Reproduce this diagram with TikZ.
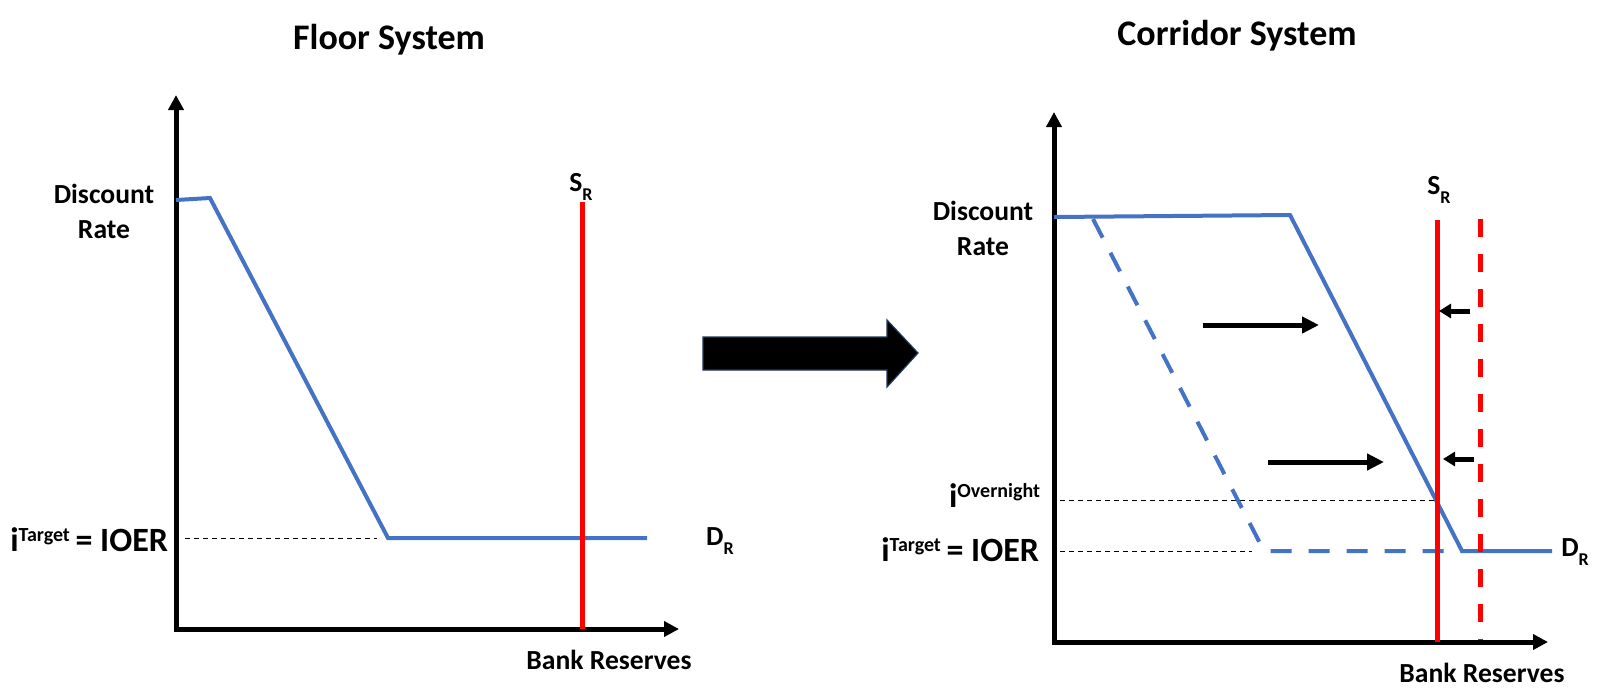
\documentclass[tikz,border=0pt]{standalone}
\usepackage{fontspec}
\setmainfont{Carlito}
\usetikzlibrary{arrows.meta}
\definecolor{curveblue}{RGB}{68,114,196}
\definecolor{supplyred}{RGB}{255,0,0}
\definecolor{arrowedge}{RGB}{31,56,100}
\newcommand{\subR}{\raisebox{-0.3em}{\fontsize{9}{9}\selectfont R}}
\newcommand{\supTxt}[1]{\raisebox{4.6pt}{\fontsize{10}{10}\selectfont #1}}
\begin{document}
\begin{tikzpicture}[x=0.5pt,y=-0.5pt,
  every node/.style={inner sep=0pt, outer sep=0pt},
  axisline/.style={line width=2.5pt, -{Triangle[length=7.5pt,width=7.5pt]}},
  demand/.style={curveblue, line width=2pt, line join=miter},
  demanddash/.style={demand, dash pattern=on 10.5pt off 8.5pt},
  supply/.style={supplyred, line width=2.5pt},
  supplydash/.style={supply, dash pattern=on 9pt off 8.5pt},
  guide/.style={black, line width=0.5pt, dash pattern=on 2.5pt off 2pt},
  shiftlong/.style={line width=2.5pt, -{Triangle[length=8.5pt,width=8pt]}},
  shiftshort/.style={line width=2.5pt, -{Triangle[length=6pt,width=7pt]}},
  titletext/.style={font=\fontsize{18}{22}\selectfont\bfseries},
  lbl/.style={font=\fontsize{13.8}{17.5}\selectfont\bfseries, align=center},
  ratelbl/.style={font=\fontsize{17}{17}\selectfont\bfseries}
]
\useasboundingbox (0,0) rectangle (1600,692);

% ---------- titles ----------
\node[titletext] (t1) at (389,40) {Floor System};
\node[titletext] (t2) at (1237,36) {Corridor System};

% ---------- left chart ----------
\coordinate (Lo) at (176,629);
\coordinate (Ly) at (176,95);
\coordinate (Lx) at (679,629);
\draw[axisline] (Lo) -- (Ly);
\draw[axisline] ([xshift=-1.25pt]Lo) -- (Lx);

\coordinate (Ld0) at (176,200);
\coordinate (Ld1) at (210,198);
\coordinate (Ld2) at (388,538);
\coordinate (Ld3) at (647,538);
\draw[demand] (Ld0) -- (Ld1) -- (Ld2) -- (Ld3);

\coordinate (Lg0) at (185,538);
\coordinate (Lg1) at (377,538);
\draw[guide] (Lg0) -- (Lg1);

\coordinate (Ls0) at (582,202);
\coordinate (Ls1) at (582,629);
\draw[supply] (Ls0) -- (Ls1);

\node[lbl] (Ldr) at (104,211) {Discount\\Rate};
\node[ratelbl, anchor=base east] (Ltgt) at (168,551) {i\supTxt{Target}\,= IOER};
\node[lbl] (LSR) at (581,187) {S\subR};
\node[lbl] (LDR) at (720,541) {D\subR};
\node[lbl] (Lbr) at (609,660) {Bank Reserves};

% ---------- big arrow ----------
\filldraw[fill=black, draw=arrowedge, line width=0.6pt]
  (703,337) -- (887,337) -- (887,320) -- (918,353) -- (887,387) -- (887,370) -- (703,370) -- cycle;

% ---------- right chart ----------
\coordinate (Ro) at (1054,642);
\coordinate (Ry) at (1054,112);
\coordinate (Rx) at (1548,642);
\draw[axisline] (Ro) -- (Ry);
\draw[axisline] ([xshift=-1.25pt]Ro) -- (Rx);

% guides
\coordinate (Rg0) at (1060,500);
\coordinate (Rg1) at (1437,500);
\coordinate (Rg2) at (1060,551);
\coordinate (Rg3) at (1252,551);
\draw[guide] (Rg0) -- (Rg1);
\draw[guide] (Rg2) -- (Rg3);

% old (dashed) demand
\coordinate (Rdd0) at (1093,219);
\coordinate (Rdd1) at (1264,551);
\coordinate (Rdd2) at (1462,551);
\draw[demanddash] (Rdd0) -- (Rdd1) -- (Rdd2);

% new demand
\coordinate (Rd0) at (1054,217);
\coordinate (Rd1) at (1290,215);
\coordinate (Rd2) at (1462,551);
\coordinate (Rd3) at (1552,551);
\draw[demand] (Rd0) -- (Rd1) -- (Rd2) -- (Rd3);

% supply lines
\coordinate (Rs0) at (1437,220);
\coordinate (Rs1) at (1437,642);
\draw[supply] (Rs0) -- (Rs1);
\coordinate (Rsd0) at (1480,219);
\coordinate (Rsd1) at (1480,640);
\draw[supplydash] (Rsd0) -- (Rsd1);

% shift arrows
\coordinate (a1s) at (1203,325);
\coordinate (a1e) at (1319,325);
\draw[shiftlong] (a1s) -- (a1e);
\coordinate (a2s) at (1268,462);
\coordinate (a2e) at (1384,462);
\draw[shiftlong] (a2s) -- (a2e);
\coordinate (a3s) at (1470,311);
\coordinate (a3e) at (1439,311);
\draw[shiftshort] (a3s) -- (a3e);
\coordinate (a4s) at (1474,459);
\coordinate (a4e) at (1443,459);
\draw[shiftshort] (a4s) -- (a4e);

% labels
\node[lbl] (Rdr) at (983,228) {Discount\\Rate};
\node[ratelbl, anchor=base east] (Rovn) at (1040,507) {i\supTxt{Overnight}};
\node[ratelbl, anchor=base east] (Rtgt) at (1039,561) {i\supTxt{Target}\,= IOER};
\node[lbl] (RSR) at (1439,190) {S\subR};
\node[lbl] (RDR) at (1575,552) {D\subR};
\node[lbl] (Rbr) at (1482,673) {Bank Reserves};
\end{tikzpicture}
\end{document}
